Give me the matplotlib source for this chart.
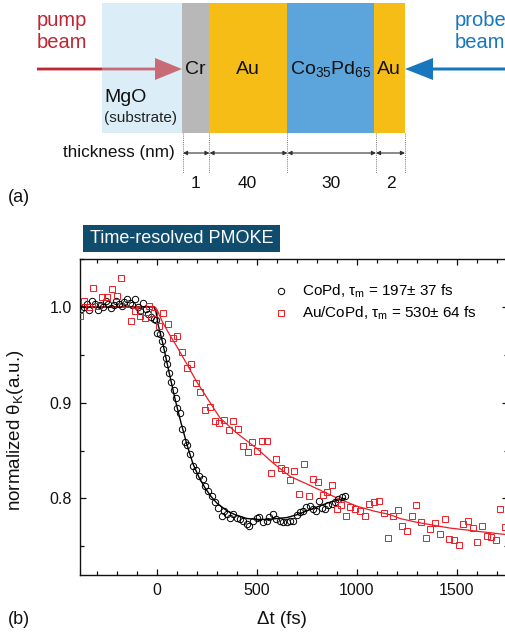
import matplotlib
matplotlib.use("Agg")
import matplotlib.pyplot as plt
from matplotlib.patches import Rectangle, FancyArrow
from matplotlib.lines import Line2D
from matplotlib.ticker import MultipleLocator

plt.rcParams['font.family'] = ['Liberation Sans', 'DejaVu Sans']
plt.rcParams['mathtext.fontset'] = 'custom'
plt.rcParams['mathtext.rm'] = 'Liberation Sans'
plt.rcParams['mathtext.it'] = 'Liberation Sans:italic'

# ---------------- data ----------------
layer_names = ['Cr', 'Au', 'Co$_\\mathregular{35}$Pd$_\\mathregular{65}$', 'Au']
layer_thickness_nm = [1, 40, 30, 2]

copd_t = [-380, -367, -352, -338, -325, -310, -297, -283, -270, -257, -243, -230, -217, -203,
          -190, -177, -163, -150, -137, -123, -110, -97, -83, -70, -57, -43, -30, -17, -5,
          2, 15, 25, 32, 43, 50, 60, 70, 85, 95, 102, 113, 123, 140, 148, 165, 178, 195, 212,
          228, 240, 257, 273, 290, 307, 323, 335, 352, 365, 382, 398, 415, 432, 452, 462, 478,
          498, 512, 532, 548, 560, 582, 595, 615, 632, 648, 665, 682, 698, 715, 732, 745, 765,
          780, 795, 812, 825, 840, 857, 873, 890, 907, 923, 940]
copd_y = [0.998, 1.000, 1.003, 0.997, 1.006, 1.003, 0.997, 1.002, 1.000, 1.006, 1.003, 0.999,
          1.002, 1.006, 1.003, 1.001, 1.005, 1.008, 1.004, 1.002, 1.008, 1.000, 0.996, 1.004,
          0.998, 0.993, 0.989, 0.987, 0.986, 0.973, 0.972, 0.964, 0.956, 0.947, 0.940, 0.931,
          0.922, 0.913, 0.905, 0.894, 0.889, 0.872, 0.859, 0.856, 0.846, 0.834, 0.830, 0.823,
          0.820, 0.813, 0.808, 0.802, 0.796, 0.790, 0.782, 0.787, 0.784, 0.780, 0.784, 0.780,
          0.778, 0.776, 0.773, 0.771, 0.776, 0.780, 0.781, 0.775, 0.776, 0.781, 0.784, 0.778,
          0.776, 0.775, 0.775, 0.776, 0.776, 0.783, 0.786, 0.787, 0.791, 0.792, 0.789, 0.787,
          0.797, 0.790, 0.789, 0.793, 0.794, 0.796, 0.799, 0.801, 0.802]

aucopd_t = [-385, -365, -342, -318, -297, -273, -250, -225, -202, -178, -155, -132, -108, -85,
            -62, -38, -15, 8, 32, 55, 78, 102, 125, 148, 170, 195, 217, 242, 265, 290, 310, 337,
            362, 382, 405, 432, 453, 477, 500, 523, 548, 570, 595, 620, 642, 663, 687, 712, 735,
            758, 782, 805, 828, 852, 875, 898, 922, 947, 967, 990, 1015, 1038, 1062, 1085, 1110,
            1133, 1157, 1180, 1203, 1227, 1250, 1273, 1297, 1320, 1343, 1367, 1390, 1415, 1438,
            1462, 1485, 1508, 1532, 1555, 1578, 1602, 1625, 1648, 1672, 1695, 1717, 1740]
aucopd_y = [0.990, 1.006, 1.000, 1.020, 1.001, 1.010, 1.010, 1.019, 1.011, 1.030, 1.003, 0.985,
            0.996, 0.990, 0.988, 1.001, 0.994, 0.980, 0.994, 0.982, 0.968, 0.970, 0.953, 0.936,
            0.940, 0.921, 0.911, 0.892, 0.895, 0.881, 0.879, 0.882, 0.871, 0.881, 0.872, 0.855,
            0.848, 0.859, 0.850, 0.860, 0.860, 0.827, 0.841, 0.832, 0.830, 0.819, 0.829, 0.805,
            0.836, 0.802, 0.820, 0.817, 0.804, 0.807, 0.814, 0.789, 0.793, 0.782, 0.791, 0.789,
            0.787, 0.782, 0.794, 0.796, 0.797, 0.785, 0.759, 0.782, 0.788, 0.771, 0.766, 0.782,
            0.793, 0.775, 0.759, 0.768, 0.774, 0.763, 0.779, 0.758, 0.757, 0.751, 0.773, 0.776,
            0.769, 0.754, 0.771, 0.761, 0.760, 0.757, 0.789, 0.770]

copd_fit_t = [-385, -15, -5, 5, 30, 60, 90, 120, 150, 180, 210, 240, 270, 300, 350, 400, 450,
              500, 550, 600, 650, 700, 750, 800, 850, 900, 940]
copd_fit_y = [1.000, 1.000, 0.995, 0.982, 0.961, 0.932, 0.904, 0.879, 0.856, 0.836, 0.822,
              0.811, 0.802, 0.795, 0.787, 0.782, 0.779, 0.778, 0.778, 0.779, 0.780, 0.783,
              0.787, 0.791, 0.795, 0.798, 0.800]

aucopd_fit_t = [-385, -10, 0, 28, 60, 98, 150, 198, 250, 315, 400, 500, 580, 665, 750, 832, 915,
                998, 1080, 1165, 1215, 1300, 1382, 1465, 1548, 1650, 1755]
aucopd_fit_y = [1.000, 1.000, 0.997, 0.984, 0.972, 0.959, 0.940, 0.922, 0.905, 0.884, 0.868,
                0.852, 0.837, 0.823, 0.815, 0.807, 0.799, 0.792, 0.787, 0.783, 0.779, 0.775,
                0.772, 0.769, 0.767, 0.7645, 0.762]

legend_labels = ['CoPd, τ$_\\mathregular{m}$ = 197± 37 fs',
                 'Au/CoPd, τ$_\\mathregular{m}$ = 530± 64 fs']

# ---------------- figure ----------------
W, H = 506, 634
fig = plt.figure(figsize=(W / 100, H / 100), dpi=100)

ov = fig.add_axes([0, 0, 1, 1], zorder=0)
ov.set_xlim(0, W)
ov.set_ylim(H, 0)
ov.axis('off')

RED = '#BE2633'
BLUE = '#1677BD'
GOLD = '#F7BD17'
COPD = '#5BA4DC'
MGO = '#DBEEF7'
CR = '#B8B8B8'

# layers
ov.add_patch(Rectangle((102, 3), 80, 130, color=MGO, zorder=1, lw=0))
ov.add_patch(FancyArrow(37, 69, 145, 0, width=2.8, head_width=22, head_length=27,
                        length_includes_head=True, color=RED, lw=0, zorder=2))
ov.add_patch(Rectangle((102, 3), 80, 130, color=MGO, alpha=0.35, zorder=3, lw=0))
xs = [182, 209, 287, 374, 405]
cols = [CR, GOLD, COPD, GOLD]
for i in range(4):
    ov.add_patch(Rectangle((xs[i], 3), xs[i + 1] - xs[i], 130, color=cols[i], lw=0, zorder=1))
ov.add_patch(FancyArrow(510, 69, -105, 0, width=3.0, head_width=22, head_length=28,
                        length_includes_head=True, color=BLUE, lw=0, zorder=2))

label_x = [195, 248, 331, 389]
for i, nm in enumerate(layer_names):
    ov.text(label_x[i], 69, nm, ha='center', va='center', fontsize=14, color='#111111', zorder=5)

ov.text(37, 20, 'pump', color=RED, fontsize=14.5, va='center', ha='left')
ov.text(37, 43, 'beam', color=RED, fontsize=14.5, va='center', ha='left')
ov.text(455, 20, 'probe', color=BLUE, fontsize=14.5, va='center', ha='left')
ov.text(455, 43, 'beam', color=BLUE, fontsize=14.5, va='center', ha='left')
ov.text(104, 97, 'MgO', fontsize=14, va='center', ha='left', color='#111111', zorder=5)
ov.text(104, 118, '(substrate)', fontsize=11, va='center', ha='left', color='#222222', zorder=5)

dx = [183, 209.5, 287.5, 376, 405]
for x in dx:
    ov.plot([x, x], [133, 173], ls=(0, (1, 1.2)), color='#777777', lw=0.7)
for i in range(4):
    ov.annotate('', xy=(dx[i + 1], 153), xytext=(dx[i], 153),
                arrowprops=dict(arrowstyle='<|-|>', color='#333333', lw=0.8,
                                mutation_scale=6, shrinkA=0, shrinkB=0))
ov.text(175, 153, 'thickness (nm)', fontsize=12.3, ha='right', va='center', color='#111111')
num_x = [196, 247, 331, 391]
for x, t in zip(num_x, layer_thickness_nm):
    ov.text(x, 184, str(t), fontsize=12.5, ha='center', va='center', color='#111111')

ov.text(8, 197, '(a)', fontsize=13, ha='left', va='center', color='#111111')
ov.text(8, 619, '(b)', fontsize=13, ha='left', va='center', color='#111111')

ov.add_patch(Rectangle((83, 225), 197, 27, color='#0F4C6E', lw=0))
ov.text(181.5, 238.5, 'Time-resolved PMOKE', color='white', fontsize=13, ha='center', va='center')

# ---------------- plot axes ----------------
L, R, T, B = 80, 508, 259, 575
ax = fig.add_axes([L / W, (H - B) / H, (R - L) / W, (B - T) / H], zorder=2)
ax.patch.set_alpha(0)

ax.plot(copd_fit_t, copd_fit_y, color='black', lw=1.0, zorder=2)
ax.plot(aucopd_fit_t, aucopd_fit_y, color='#EE1C25', lw=0.9, zorder=2)
h1, = ax.plot(copd_t, copd_y, ls='none', marker='o', ms=4.6, mfc='none', mec='black', mew=0.7,
              zorder=3)
h2, = ax.plot(aucopd_t, aucopd_y, ls='none', marker='s', ms=4.4, mfc='none', mec='#EE1C25',
              mew=0.7, zorder=3)

ax.set_xlim(-385, 1755)
ax.set_ylim(0.72, 1.05)
ax.xaxis.set_major_locator(MultipleLocator(500))
ax.xaxis.set_minor_locator(MultipleLocator(100))
ax.yaxis.set_major_locator(MultipleLocator(0.1))
ax.yaxis.set_minor_locator(MultipleLocator(0.05))
ax.yaxis.set_major_formatter(matplotlib.ticker.FormatStrFormatter('%.1f'))
ax.tick_params(which='both', direction='in', top=True, right=True, width=0.9, colors='#111111')
ax.tick_params(which='major', length=4.5, labelsize=11.5, pad=6)
ax.tick_params(which='minor', length=3)
for s in ax.spines.values():
    s.set_linewidth(1.0)
    s.set_color('#111111')

fig.text(282 / W, 1 - 619 / H, 'Δt (fs)', fontsize=13.5, ha='center', va='center', color='#111111')
fig.text(16 / W, 1 - 430 / H, 'normalized θ$_\\mathregular{K}$(a.u.)', fontsize=13.5, rotation=90,
         ha='center', va='center', color='#111111')

ax.legend([h1, h2], legend_labels, loc='upper left', bbox_to_anchor=(270 / W, 1 - 280 / H),
          bbox_transform=fig.transFigure, frameon=False, fontsize=11, handlelength=1.0,
          handletextpad=0.9, labelspacing=0.3, borderpad=0.2, borderaxespad=0)

fig.savefig('out.png', dpi=100)
